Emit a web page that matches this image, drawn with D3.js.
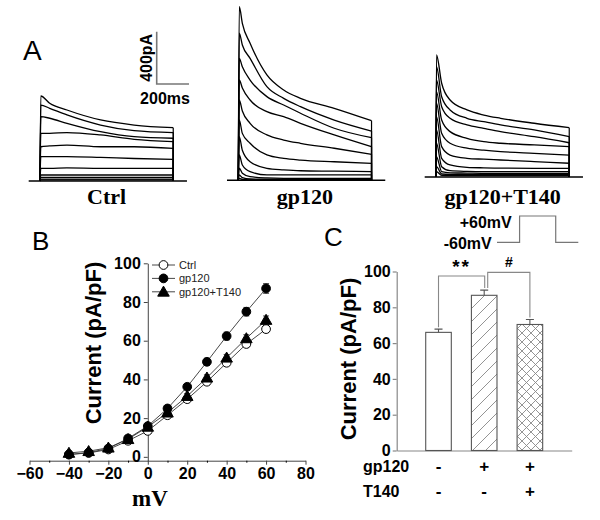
<!DOCTYPE html>
<html><head><meta charset="utf-8">
<script src="https://cdn.jsdelivr.net/npm/d3@7"></script>
<style>body{margin:0;background:#fff;} svg{display:block;font-family:"Liberation Sans",Arial,sans-serif;}</style>
</head><body><svg id="c" width="600" height="520"></svg>
<script>
// ---------- Panel A: current traces (pA vs ms) ----------
const conditions = ["Ctrl", "gp120", "gp120+T140"];
const pulseEnd = 825;
const baselineSpan = [-70, 910];
const ctrlTimes = [5, 60, 167, 375, 583, 825];
const ctrlTraces = [
  [650, 594, 543, 467, 428, 408],
  [581, 556, 505, 428, 385, 370],
  [492, 480, 441, 377, 339, 327],
  [365, 365, 370, 352, 319, 301],
  [262, 268, 275, 262, 262, 250],
  [186, 186, 186, 180, 172, 166],
  [97, 97, 100, 97, 97, 97],
  [46, 46, 46, 46, 46, 46],
  [28, 28, 28, 28, 28, 28],
  [15, 15, 15, 15, 15, 15],
  [8, 8, 8, 8, 8, 8]
];
const gpTimes = [6, 25, 73, 177, 281, 385, 594, 825];
const gpTraces = [
  [1328, 1201, 1048, 806, 691, 627, 551, 456],
  [1125, 1035, 933, 716, 627, 563, 461, 377],
  [933, 868, 767, 640, 576, 513, 398, 326],
  [767, 706, 614, 525, 487, 436, 347, 257],
  [614, 530, 436, 347, 308, 283, 245, 199],
  [461, 359, 283, 194, 168, 155, 142, 130],
  [334, 230, 142, 92, 80, 73, 70, 66],
  [194, 117, 66, 41, 41, 41, 41, 41],
  [92, 54, 28, 18, 15, 15, 15, 15],
  [41, 20, 10, 8, 8, 8, 8, 8],
  [15, 7, 4, 4, 4, 4, 4, 4]
];
const t140Times = [3, 35, 87, 192, 296, 400, 608, 825];
const t140Traces = [
  [933, 717, 589, 513, 474, 449, 411, 377],
  [844, 614, 513, 449, 423, 398, 360, 308],
  [742, 538, 449, 398, 372, 347, 308, 262],
  [653, 436, 347, 296, 270, 258, 245, 232],
  [564, 334, 258, 220, 205, 194, 181, 168],
  [461, 232, 168, 143, 136, 130, 118, 105],
  [360, 143, 92, 74, 70, 68, 66, 66],
  [258, 79, 48, 43, 41, 41, 41, 41],
  [155, 41, 32, 30, 28, 28, 28, 28],
  [79, 23, 20, 20, 20, 20, 20, 20],
  [41, 12, 10, 10, 10, 10, 10, 10]
];
const scaleBarCurrent = 400, scaleBarTime = 200;

// ---------- Panel B: I-V relationship ----------
const ivVoltages = [-40, -30, -20, -10, 0, 10, 20, 30, 40, 50, 60];
const ivCtrl  = [1.2, 2.0, 3.8, 8.3, 13.4, 21.5, 29.8, 38.8, 48.6, 58.3, 66.0];
const ivGp120 = [1.2, 2.2, 4.3, 9.5, 15.9, 25.0, 36.2, 49.1, 62.4, 75.0, 87.0];
const ivT140  = [2.0, 2.9, 4.7, 9.1, 15.5, 22.8, 31.4, 40.9, 51.2, 61.2, 70.7];
const ivCtrlErr  = [0.4, 0.5, 0.6, 0.8, 1.0, 1.0, 1.2, 1.3, 1.5, 1.6, 1.8];
const ivGp120Err = [0.4, 0.5, 0.7, 0.9, 1.1, 1.3, 1.5, 1.8, 2.0, 2.2, 2.5];
const ivT140Err  = [0.4, 0.5, 0.6, 0.8, 1.0, 1.1, 1.3, 1.5, 1.7, 1.9, 2.1];
const ivSeriesNames = ["Ctrl", "gp120", "gp120+T140"];
const xTicksB = [-60, -40, -20, 0, 20, 40, 60, 80];
const yTicksB = [0, 20, 40, 60, 80, 100];

// ---------- Panel C: bar chart ----------
const barGroups = ["Ctrl", "gp120", "gp120+T140"];
const barValues = [66, 86.7, 70.4];
const barErrors = [1.8, 2.9, 2.8];
const gp120Row = ["-", "+", "+"];
const t140Row = ["-", "-", "+"];
const yTicksC = [0, 20, 40, 60, 80, 100];
const sigPairs = [{a: 0, b: 1, label: "**", level: 97.5}, {a: 1, b: 2, label: "#", level: 99.5}];
const protoTimes = [-500, 0, 0, 800, 800, 1300];
const protoVolts = [-60, -60, 60, 60, -60, -60];

const svg = d3.select("#c");
const defs = svg.append("defs");
const pd = defs.append("pattern").attr("id", "diag").attr("patternUnits", "userSpaceOnUse")
  .attr("width", 13).attr("height", 13);
pd.append("path").attr("d", "M0,13 L13,0 M-2,2 L2,-2 M11,15 L15,11").attr("stroke", "#888").attr("stroke-width", 0.9);
const px = defs.append("pattern").attr("id", "cross").attr("patternUnits", "userSpaceOnUse")
  .attr("width", 9).attr("height", 9);
px.append("path").attr("d", "M0,9 L9,0 M-2,2 L2,-2 M7,11 L11,7 M0,0 L9,9 M-2,7 L2,11 M7,-2 L11,2").attr("stroke", "#888").attr("stroke-width", 0.9);

// ===== Panel A =====
const xA = d3.scaleLinear().domain([0, scaleBarTime]).range([0, 32.3]);
const yA = d3.scaleLinear().domain([0, scaleBarCurrent]).range([0, -52.3]);
const setsA = [
  {name: conditions[0], times: ctrlTimes, traces: ctrlTraces, ox: 40, oy: 181},
  {name: conditions[1], times: gpTimes, traces: gpTraces, ox: 238.3, oy: 180.3},
  {name: conditions[2], times: t140Times, traces: t140Traces, ox: 436, oy: 177}
];
const lineA = d3.line().x(d => xA(d[0])).y(d => yA(d[1])).curve(d3.curveMonotoneX);
setsA.forEach(s => {
  const g = svg.append("g").attr("transform", `translate(${s.ox},${s.oy})`);
  g.append("line").attr("x1", xA(baselineSpan[0])).attr("x2", xA(baselineSpan[1]))
    .attr("y1", yA(0)).attr("y2", yA(0)).attr("stroke", "#000").attr("stroke-width", 1.6);
  s.traces.forEach(tr => {
    const pts = [[0, 0]].concat(s.times.map((t, i) => [t, tr[i]]));
    g.append("path").attr("d", lineA(pts)).attr("fill", "none").attr("stroke", "#000").attr("stroke-width", 1.3);
    g.append("line").attr("x1", xA(pulseEnd)).attr("x2", xA(pulseEnd))
      .attr("y1", yA(tr[tr.length - 1])).attr("y2", yA(0)).attr("stroke", "#000").attr("stroke-width", 1.2);
  });
  const cx = s.ox + xA(pulseEnd / 2);
  svg.append("text").attr("x", cx).attr("y", 204).attr("text-anchor", "middle")
    .attr("font-family", "'Liberation Serif','Times New Roman',serif").attr("font-weight", "bold")
    .attr("font-size", 22).text(s.name);
});
// scale bar
const sbx = 156.7, sby = 84;
svg.append("path").attr("d", `M${sbx},${sby + yA(scaleBarCurrent)} L${sbx},${sby} L${sbx + xA(scaleBarTime)},${sby}`)
  .attr("fill", "none").attr("stroke", "#777").attr("stroke-width", 1.6);
svg.append("text").attr("transform", `translate(146,${sby + yA(scaleBarCurrent) / 2}) rotate(-90)`)
  .attr("text-anchor", "middle").attr("dominant-baseline", "central").attr("font-weight", "bold").attr("font-size", 16).text(scaleBarCurrent + "pA");
svg.append("text").attr("x", 165).attr("y", 103.5).attr("text-anchor", "middle").attr("font-weight", "bold").attr("font-size", 16).text(scaleBarTime + "ms");
svg.append("text").attr("x", 23).attr("y", 60).attr("font-size", 28).text("A");

// ===== Panel B =====
const xB = d3.scaleLinear().domain([-60, 80]).range([29.5, 305.5]);
const yB = d3.scaleLinear().domain([-2, 100]).range([460.7, 263.3]);
const axB = svg.append("g").attr("transform", `translate(0,${yB(-2)})`)
  .call(d3.axisBottom(xB).tickValues(xTicksB).tickSize(4).tickSizeOuter(0).tickPadding(3));
svg.append("g").attr("transform", `translate(0,${yB(-2)})`)
  .call(d3.axisBottom(xB).tickValues(d3.range(-50, 80, 20)).tickSize(2).tickFormat("")).select(".domain").remove();
const ayB = svg.append("g").attr("transform", `translate(${xB(0)},0)`)
  .call(d3.axisLeft(yB).tickValues(yTicksB).tickSize(4).tickSizeOuter(0).tickPadding(3));
[axB, ayB].forEach(a => {
  a.selectAll("path,line").attr("stroke", "#444");
  a.selectAll("text").attr("font-size", 16).attr("font-weight", "bold").attr("fill", "#000")
    .attr("font-family", "'Liberation Sans',Arial,sans-serif");
});
svg.append("text").attr("x", 150).attr("y", 506).attr("text-anchor", "middle")
  .attr("font-family", "'Liberation Serif','Times New Roman',serif").attr("font-weight", "bold").attr("font-size", 23).text("mV");
svg.append("text").attr("transform", "translate(93,343) rotate(-90)").attr("text-anchor", "middle")
  .attr("dominant-baseline", "central").attr("font-weight", "bold").attr("font-size", 22).text("Current (pA/pF)");
svg.append("text").attr("x", 32).attr("y", 250).attr("font-size", 26).text("B");

const seriesB = [
  {name: ivSeriesNames[0], vals: ivCtrl, err: ivCtrlErr, sym: "circle", fill: "#fff"},
  {name: ivSeriesNames[2], vals: ivT140, err: ivT140Err, sym: "triangle", fill: "#000"},
  {name: ivSeriesNames[1], vals: ivGp120, err: ivGp120Err, sym: "circle", fill: "#000"}
];
const symPath = s => s === "circle" ? d3.symbol(d3.symbolCircle, 60)() : d3.symbol(d3.symbolTriangle, 58)();
const lineB = d3.line().x((d, i) => xB(ivVoltages[i])).y(d => yB(d));
seriesB.forEach(s => {
  const g = svg.append("g");
  g.append("path").attr("d", lineB(s.vals)).attr("fill", "none").attr("stroke", "#333").attr("stroke-width", 0.9);
  s.vals.forEach((v, i) => {
    const x = xB(ivVoltages[i]);
    g.append("path").attr("d", `M${x},${yB(v - s.err[i])}L${x},${yB(v + s.err[i])}M${x - 3},${yB(v + s.err[i])}L${x + 3},${yB(v + s.err[i])}M${x - 3},${yB(v - s.err[i])}L${x + 3},${yB(v - s.err[i])}`)
      .attr("stroke", "#333").attr("stroke-width", 0.9);
    g.append("path").attr("d", symPath(s.sym)).attr("transform", `translate(${x},${yB(v) + (s.sym === "triangle" ? 1 : 0)})`)
      .attr("fill", s.fill).attr("stroke", "#000").attr("stroke-width", 1);
  });
});
// legend
const legOrder = [{name: ivSeriesNames[0], sym: "circle", fill: "#fff"}, {name: ivSeriesNames[1], sym: "circle", fill: "#000"}, {name: ivSeriesNames[2], sym: "triangle", fill: "#000"}];
legOrder.forEach((l, i) => {
  const y = 265 + i * 13.4;
  svg.append("line").attr("x1", 152).attr("x2", 175).attr("y1", y).attr("y2", y).attr("stroke", "#333").attr("stroke-width", 0.9);
  svg.append("path").attr("d", symPath(l.sym)).attr("transform", `translate(163.5,${y + (l.sym === "triangle" ? 1 : 0)})`)
    .attr("fill", l.fill).attr("stroke", "#000");
  svg.append("text").attr("x", 179).attr("y", y).attr("dominant-baseline", "central").attr("font-size", 11).attr("fill", "#222").text(l.name);
});

// ===== Panel C =====
const xC = d3.scaleBand().domain(barGroups).range([396.7, 571.7]).paddingInner(0.44).paddingOuter(0.635);
const yC = d3.scaleLinear().domain([0, 100]).range([450.5, 271.5]);
const ayC = svg.append("g").attr("transform", "translate(396.7,0)")
  .call(d3.axisLeft(yC).tickValues(yTicksC).tickSize(4).tickSizeOuter(0).tickPadding(2));
const axC = svg.append("g").attr("transform", `translate(0,${yC(0)})`)
  .call(d3.axisBottom(xC).tickSize(0).tickFormat(""));
[ayC, axC].forEach(a => {
  a.selectAll("path,line").attr("stroke", "#888").attr("stroke-width", 1.2);
  a.selectAll("text").attr("font-size", 16).attr("font-weight", "bold").attr("fill", "#000")
    .attr("font-family", "'Liberation Sans',Arial,sans-serif");
});
const fills = ["#fff", "url(#diag)", "url(#cross)"];
barGroups.forEach((c, i) => {
  const x = xC(c), w = xC.bandwidth(), cx = x + w / 2;
  svg.append("rect").attr("x", x).attr("y", yC(barValues[i])).attr("width", w)
    .attr("height", yC(0) - yC(barValues[i])).attr("fill", fills[i]).attr("stroke", "#555").attr("stroke-width", 1.1);
  const top = yC(barValues[i] + barErrors[i]);
  svg.append("path").attr("d", `M${cx},${yC(barValues[i])}L${cx},${top}M${cx - 4},${top}L${cx + 4},${top}`)
    .attr("stroke", "#555").attr("stroke-width", 1.1);
  svg.append("text").attr("x", cx).attr("y", 466.7).attr("text-anchor", "middle").attr("dominant-baseline", "central")
    .attr("font-weight", "bold").attr("font-size", 17).text(gp120Row[i]);
  svg.append("text").attr("x", cx).attr("y", 491.7).attr("text-anchor", "middle").attr("dominant-baseline", "central")
    .attr("font-weight", "bold").attr("font-size", 17).text(t140Row[i]);
});
svg.append("text").attr("x", 363).attr("y", 466.7).attr("dominant-baseline", "central").attr("font-weight", "bold").attr("font-size", 16).text("gp120");
svg.append("text").attr("x", 363).attr("y", 491.7).attr("dominant-baseline", "central").attr("font-weight", "bold").attr("font-size", 16).text("T140");
// significance brackets
sigPairs.forEach((p, k) => {
  const xa = xC(barGroups[p.a]) + xC.bandwidth() / 2 + (k === 1 ? 3.5 : 0);
  const xb = xC(barGroups[p.b]) + xC.bandwidth() / 2 + (k === 0 ? 0.5 : 0);
  const yl = yC(p.level);
  const ya = yC(barValues[p.a] + barErrors[p.a]) - 2;
  const yb = yC(barValues[p.b] + barErrors[p.b]) - 2;
  svg.append("path").attr("d", `M${xa},${ya}L${xa},${yl}L${xb},${yl}L${xb},${yb}`)
    .attr("fill", "none").attr("stroke", "#888").attr("stroke-width", 1.1);
  svg.append("text").attr("x", (xa + xb) / 2).attr("y", p.label === "#" ? 266.7 : yl - 3).attr("text-anchor", "middle")
    .attr("letter-spacing", p.label === "#" ? 0 : 2)
    .attr("font-weight", "bold").attr("font-size", p.label === "#" ? 14 : 19).text(p.label);
});
svg.append("text").attr("x", 324).attr("y", 246).attr("font-size", 26).text("C");
svg.append("text").attr("transform", "translate(348,359) rotate(-90)").attr("text-anchor", "middle")
  .attr("dominant-baseline", "central").attr("font-weight", "bold").attr("font-size", 22).text("Current (pA/pF)");
// voltage protocol
const xP = d3.scaleLinear().domain([-500, 1300]).range([497, 578.3]);
const yP = d3.scaleLinear().domain([-60, 60]).range([242.3, 216]);
svg.append("path").attr("d", d3.line().x((d, i) => xP(protoTimes[i])).y(d => yP(d))(protoVolts))
  .attr("fill", "none").attr("stroke", "#777").attr("stroke-width", 1.2);
svg.append("text").attr("x", 511.7).attr("y", 222.5).attr("text-anchor", "end").attr("dominant-baseline", "central")
  .attr("font-weight", "bold").attr("font-size", 16).text("+60mV");
svg.append("text").attr("x", 491.7).attr("y", 243.5).attr("text-anchor", "end").attr("dominant-baseline", "central")
  .attr("font-weight", "bold").attr("font-size", 16).text("-60mV");
</script></body></html>
